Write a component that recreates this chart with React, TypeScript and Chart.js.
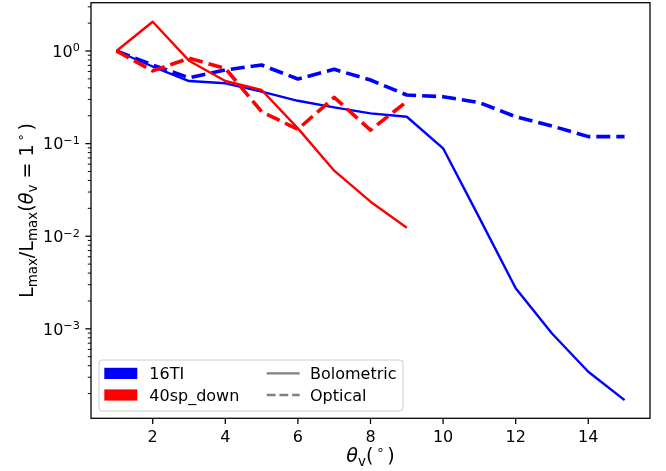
import React, { useEffect, useRef } from 'react';
import { Chart, registerables } from 'chart.js';

Chart.register(...registerables);

// ---- data ----
const anglesTI = [1, 2, 3, 4, 5, 6, 7, 8, 9, 10, 11, 12, 13, 14, 15];
const bolometricTI = [1.0, 0.68, 0.474, 0.448, 0.364, 0.29, 0.246, 0.212, 0.195, 0.089, 0.0158, 0.00274, 0.00089, 0.000344, 0.00017];
const opticalTI = [1.0, 0.706, 0.515, 0.624, 0.706, 0.499, 0.634, 0.486, 0.335, 0.321, 0.277, 0.195, 0.155, 0.119, 0.119];
const anglesSP = [1, 2, 3, 4, 5, 6, 7, 8, 9];
const bolometricSP = [1.0, 2.07, 0.786, 0.474, 0.379, 0.146, 0.051, 0.0236, 0.01236];
const opticalSP = [1.0, 0.61, 0.834, 0.65, 0.221, 0.143, 0.316, 0.14, 0.285];

const xTickValues = [2, 4, 6, 8, 10, 12, 14];
const yMajorExponents = [-4, -3, -2, -1, 0];
const modelNames = ['16TI', '40sp_down'];
const modelColors = ['#0000ff', '#ff0000'];
const bandNames = ['Bolometric', 'Optical'];

const FONT = '"DejaVu Sans", sans-serif';
const F = 16;
const FS = 11.2;
const FT = 19.2;
const FTS = 13.4;

type Part = { t: string; s: number; dy?: number; it?: boolean };

function setFont(ctx: CanvasRenderingContext2D, p: Part) {
  ctx.font = `${p.it ? 'italic ' : ''}${p.s}px ${FONT}`;
}
function partsWidth(ctx: CanvasRenderingContext2D, parts: Part[]) {
  let w = 0;
  for (const p of parts) {
    setFont(ctx, p);
    w += ctx.measureText(p.t).width;
  }
  return w;
}
function drawParts(ctx: CanvasRenderingContext2D, parts: Part[], x: number, y: number, align: 'left' | 'center' | 'right') {
  const w = partsWidth(ctx, parts);
  let cx = align === 'center' ? x - w / 2 : align === 'right' ? x - w : x;
  ctx.textAlign = 'left';
  ctx.textBaseline = 'alphabetic';
  for (const p of parts) {
    setFont(ctx, p);
    ctx.fillText(p.t, cx, y + (p.dy || 0));
    cx += ctx.measureText(p.t).width;
  }
}

const axesPlugin = {
  id: 'mplAxes',
  beforeDraw(chart: any) {
    const ctx = chart.ctx as CanvasRenderingContext2D;
    ctx.save();
    ctx.fillStyle = '#ffffff';
    ctx.fillRect(0, 0, chart.width, chart.height);
    ctx.restore();
  },
  afterDraw(chart: any) {
    const ctx = chart.ctx as CanvasRenderingContext2D;
    const a = chart.chartArea;
    const xs = chart.scales.x;
    const ys = chart.scales.y;
    ctx.save();
    ctx.fillStyle = '#000';
    ctx.strokeStyle = '#000';

    // x ticks
    ctx.lineWidth = 1.28;
    for (const t of xTickValues) {
      const px = xs.getPixelForValue(t);
      ctx.beginPath();
      ctx.moveTo(px, a.bottom);
      ctx.lineTo(px, a.bottom + 5.6);
      ctx.stroke();
      drawParts(ctx, [{ t: String(t), s: F }], px, a.bottom + 23.5, 'center');
    }

    // y ticks
    const yMin = ys.min, yMax = ys.max;
    for (const e of yMajorExponents) {
      const base = Math.pow(10, e);
      if (base >= yMin && base <= yMax) {
        const py = ys.getPixelForValue(base);
        ctx.lineWidth = 1.28;
        ctx.beginPath();
        ctx.moveTo(a.left, py);
        ctx.lineTo(a.left - 5.6, py);
        ctx.stroke();
        const expTxt = e < 0 ? '\u2212' + String(-e) : String(e);
        drawParts(ctx, [{ t: '10', s: F }, { t: expTxt, s: FS, dy: -5.5 }], a.left - 11.2, py + 5.8, 'right');
      }
      for (let m = 2; m <= 9; m++) {
        const v = m * base;
        if (v >= yMin && v <= yMax) {
          const py = ys.getPixelForValue(v);
          ctx.lineWidth = 0.96;
          ctx.beginPath();
          ctx.moveTo(a.left, py);
          ctx.lineTo(a.left - 3.2, py);
          ctx.stroke();
        }
      }
    }

    // frame
    ctx.lineWidth = 1.28;
    ctx.strokeRect(a.left, a.top, a.right - a.left, a.bottom - a.top);

    // x title
    drawParts(ctx, [
      { t: '\u03b8', s: FT, it: true },
      { t: 'v', s: FTS, dy: 4 },
      { t: '(', s: FT },
      { t: '\u2009\u2218\u2009', s: FTS, dy: -8 },
      { t: ')', s: FT },
    ], (a.left + a.right) / 2, 462, 'center');

    // y title
    ctx.save();
    ctx.translate(33, (a.top + a.bottom) / 2);
    ctx.rotate(-Math.PI / 2);
    drawParts(ctx, [
      { t: 'L', s: FT },
      { t: 'max', s: FTS, dy: 4 },
      { t: '/L', s: FT },
      { t: 'max', s: FTS, dy: 4 },
      { t: '(', s: FT },
      { t: '\u03b8', s: FT, it: true },
      { t: 'v', s: FTS, dy: 4 },
      { t: ' = 1', s: FT },
      { t: '\u2009\u2218\u2009', s: FTS, dy: -8 },
      { t: ')', s: FT },
    ], 0, 0, 'center');
    ctx.restore();

    // legend
    const lx = 99, ly = 360, lw = 304, lh = 51, r = 3;
    ctx.fillStyle = 'rgba(255,255,255,0.8)';
    ctx.strokeStyle = '#cccccc';
    ctx.lineWidth = 1;
    ctx.beginPath();
    ctx.moveTo(lx + r, ly);
    ctx.lineTo(lx + lw - r, ly);
    ctx.quadraticCurveTo(lx + lw, ly, lx + lw, ly + r);
    ctx.lineTo(lx + lw, ly + lh - r);
    ctx.quadraticCurveTo(lx + lw, ly + lh, lx + lw - r, ly + lh);
    ctx.lineTo(lx + r, ly + lh);
    ctx.quadraticCurveTo(lx, ly + lh, lx, ly + lh - r);
    ctx.lineTo(lx, ly + r);
    ctx.quadraticCurveTo(lx, ly, lx + r, ly);
    ctx.closePath();
    ctx.fill();
    ctx.stroke();

    const rowCenters = [373.4, 395];
    modelNames.forEach((name, i) => {
      ctx.fillStyle = modelColors[i];
      ctx.fillRect(104.3, rowCenters[i] - 5.6, 33, 11.2);
      ctx.fillStyle = '#000';
      drawParts(ctx, [{ t: name, s: F }], 149.3, rowCenters[i] + 5.8, 'left');
    });
    bandNames.forEach((name, i) => {
      ctx.strokeStyle = '#808080';
      ctx.lineWidth = 2.4;
      ctx.setLineDash(i === 0 ? [] : [8.9, 3.8]);
      ctx.beginPath();
      ctx.moveTo(266.7, rowCenters[i]);
      ctx.lineTo(299.7, rowCenters[i]);
      ctx.stroke();
      ctx.setLineDash([]);
      ctx.fillStyle = '#000';
      drawParts(ctx, [{ t: name, s: F }], 310, rowCenters[i] + 5.8, 'left');
    });

    ctx.restore();
  },
};

function pts(xv: number[], yv: number[]) {
  return xv.map((x, i) => ({ x, y: yv[i] }));
}

export default function App() {
  const ref = useRef<HTMLCanvasElement | null>(null);
  useEffect(() => {
    document.body.style.margin = '0';
    const canvas = ref.current!;
    const chart = new Chart(canvas, {
      type: 'line',
      data: {
        datasets: [
          { label: '16TI Bolometric', data: pts(anglesTI, bolometricTI), borderColor: modelColors[0], borderWidth: 2.4, order: 4 },
          { label: '16TI Optical', data: pts(anglesTI, opticalTI), borderColor: modelColors[0], borderWidth: 3.6, borderDash: [14, 6], order: 3 },
          { label: '40sp_down Bolometric', data: pts(anglesSP, bolometricSP), borderColor: modelColors[1], borderWidth: 2.4, order: 2 },
          { label: '40sp_down Optical', data: pts(anglesSP, opticalSP), borderColor: modelColors[1], borderWidth: 3.6, borderDash: [14, 6], order: 1 },
        ] as any,
      },
      options: {
        responsive: false,
        animation: false,
        devicePixelRatio: 1,
        layout: { padding: { left: 91, top: 2.7, right: 16, bottom: 52.7 } },
        elements: {
          point: { radius: 0 },
          line: { tension: 0, borderJoinStyle: 'round', borderCapStyle: 'butt', fill: false },
        },
        scales: {
          x: { type: 'linear', min: 0.3, max: 15.7, display: false },
          y: { type: 'logarithmic', min: Math.pow(10, -3.966), max: Math.pow(10, 0.5216), display: false },
        },
        plugins: { legend: { display: false }, tooltip: { enabled: false } },
      } as any,
      plugins: [axesPlugin],
    });
    return () => chart.destroy();
  }, []);
  return (
    <div style={{ position: 'absolute', left: 0, top: 0, width: 666, height: 471 }}>
      <canvas ref={ref} width={666} height={471} />
    </div>
  );
}
